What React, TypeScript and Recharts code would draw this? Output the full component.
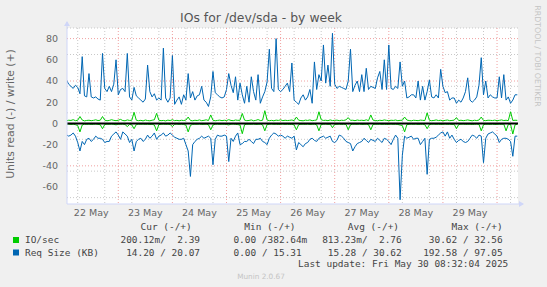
import React from 'react';
import { LineChart, Line, XAxis, YAxis, CartesianGrid, ReferenceLine } from 'recharts';

// time axis: hours since 22 May 00:00
const hours = Array.from({ length: 201 }, (_, i) => i + 1);

const dayLabels = ['22 May', '23 May', '24 May', '25 May', '26 May', '27 May', '28 May', '29 May'];
const dayLabelHours = [12, 36, 60, 84, 108, 132, 156, 180];
const majorXHours = [24, 48, 72, 96, 120, 144, 168, 192];
const minorXHours = [6, 12, 18, 30, 36, 42, 54, 60, 66, 78, 84, 90, 102, 108, 114, 126, 132, 138, 150, 156, 162, 174, 180, 186, 198];
const majorY = [-60, -40, -20, 0, 20, 40, 60, 80];
const minorY = [-75, -70, -65, -55, -50, -45, -35, -30, -25, -15, -10, -5, 5, 10, 15, 25, 30, 35, 45, 50, 55, 65, 70, 75, 85, 90];

// Req Size (KB), write (+)
const reqWrite = [
  41, 37, 35, 33, 36, 34, 28, 63, 26, 25,
  47, 25, 24, 25, 23, 22, 66, 33, 30, 35,
  30, 37, 60, 27, 32, 33, 30, 66, 25, 22,
  34, 26, 24, 22, 20, 23, 55, 30, 25, 28,
  22, 24, 22, 71, 24, 20, 24, 64, 18, 22,
  25, 18, 27, 22, 47, 24, 30, 22, 26, 27,
  35, 22, 20, 16, 25, 49, 29, 27, 25, 24,
  25, 32, 47, 36, 29, 44, 22, 38, 27, 19,
  35, 20, 44, 30, 22, 46, 19, 25, 30, 39,
  70, 33, 30, 80, 32, 30, 32, 35, 38, 30,
  57, 22, 20, 18, 24, 27, 22, 25, 32, 19,
  58, 32, 46, 40, 74, 38, 55, 35, 85, 37,
  33, 35, 34, 33, 32, 40, 70, 30, 36, 40,
  30, 46, 30, 52, 32, 35, 34, 33, 43, 49,
  32, 60, 32, 74, 33, 32, 35, 33, 58, 35,
  40, 24, 25, 27, 27, 24, 40, 22, 35, 22,
  30, 41, 25, 24, 27, 24, 51, 35, 29, 30,
  22, 24, 24, 19, 22, 20, 24, 30, 43, 22,
  20, 22, 25, 36, 62, 27, 40, 24, 27, 25,
  24, 24, 44, 24, 46, 22, 25, 19, 22, 27,
  27,
];

// Req Size (KB), read (-)
const reqRead = [
  -10.7, -12, -11, -9, -12, -18, -26, -17, -20, -15,
  -14, -17, -15, -12, -14, -14, -15, -18, -17, -17,
  -12, -10, -8, -11, -15, -8, -10, -12, -18, -15,
  -26, -17, -15, -14, -17, -15, -11, -14, -12, -9,
  -15, -12, -11, -9, -12, -11, -9, -11, -13, -14,
  -15, -15, -14, -20, -26, -50, -20, -17, -15, -14,
  -12, -14, -13, -12, -14, -39, -15, -11, -12, -12,
  -11, -12, -36, -14, -17, -12, -9, -20, -19, -17,
  -17, -15, -17, -19, -15, -15, -14, -17, -18, -20,
  -14, -11, -9, -10, -12, -11, -12, -14, -12, -13,
  -14, -12, -25, -18, -20, -22, -19, -18, -15, -14,
  -16, -17, -14, -13, -12, -14, -13, -12, -17, -18,
  -16, -11, -12, -14, -17, -18, -19, -26, -22, -19,
  -18, -17, -14, -16, -18, -15, -16, -17, -14, -16,
  -18, -14, -15, -17, -20, -15, -11, -14, -72, -30,
  -12, -14, -13, -12, -15, -14, -14, -20, -17, -14,
  -48, -15, -14, -14, -13, -11, -9, -8, -12, -8,
  -14, -11, -15, -18, -16, -15, -17, -18, -17, -14,
  -11, -12, -14, -11, -12, -37, -14, -10, -9, -8,
  -10, -12, -18, -15, -14, -14, -15, -17, -31, -12,
  -12,
];

// IO/sec, write (+)
const ioWrite = [
  2.5, 3, 2.8, 3.5, 2.6, 3, 6.5, 3.2, 2.4, 2.8,
  3, 2.6, 2.9, 3.4, 2.7, 3, 6.5, 3.1, 2.5, 2.8,
  3.5, 2.9, 2.6, 3, 3.8, 2.7, 2.5, 3.3, 2.8, 3,
  10.5, 3, 2.6, 2.9, 2.4, 3.2, 2.7, 2.5, 3, 3.4,
  9.5, 3, 2.6, 2.8, 2.4, 3.1, 2.7, 3.5, 2.6, 2.9,
  2.5, 3, 2.7, 3.2, 6, 2.8, 2.5, 3, 2.7, 3.3,
  2.6, 2.9, 3.4, 2.7, 8, 3, 2.5, 2.8, 3.1, 2.6,
  3, 2.7, 3.5, 2.8, 2.6, 3.2, 2.9, 3, 9.4, 3.1,
  2.6, 2.8, 3.3, 2.5, 2.9, 3.6, 2.7, 3, 12, 3.2,
  2.6, 2.9, 2.5, 3.1, 2.8, 3.4, 2.6, 3, 2.7, 2.9,
  3.2, 2.6, 6, 3, 2.7, 2.5, 3.1, 2.8, 3.3, 2.6,
  2.9, 3.2, 11, 3.5, 2.8, 3, 2.6, 3.3, 2.7, 2.9,
  3.1, 2.6, 3, 2.8, 3.4, 5.5, 2.9, 3, 2.6, 3.2,
  2.8, 3, 2.7, 3.4, 2.6, 8, 3.1, 2.8, 2.5, 3,
  2.7, 3.3, 2.9, 2.6, 3, 2.8, 3.2, 2.6, 2.9, 3,
  6, 3.2, 2.7, 2.5, 3, 2.8, 2.6, 3.1, 2.9, 2.7,
  10, 3, 2.6, 2.8, 3.3, 2.7, 3, 2.5, 2.9, 3.2,
  2.6, 2.8, 3.1, 5.5, 2.7, 3, 2.6, 2.9, 3.3, 2.8,
  2.5, 3, 2.7, 3.2, 6, 2.8, 2.6, 3, 2.9, 2.7,
  3.1, 2.6, 2.9, 3.3, 2.7, 3, 2.6, 11, 2.8, 3,
  2.9,
];

// IO/sec, read (-)
const ioRead = [
  -0.8, -0.6, -1, -0.7, -1.2, -2, -8, -1.5, -0.7, -0.9,
  -0.6, -1, -0.8, -0.6, -0.9, -1.2, -5, -1, -0.7, -0.8,
  -0.6, -0.9, -1.3, -0.7, -0.8, -0.6, -1, -3, -0.9, -1.4,
  -5, -1, -0.7, -0.8, -0.6, -0.9, -0.7, -1, -0.8, -1.5,
  -7, -1.1, -0.8, -0.6, -0.9, -0.7, -1, -3, -0.8, -0.6,
  -0.9, -0.7, -1, -1.6, -8, -1.8, -0.9, -0.7, -0.8, -0.6,
  -1, -0.8, -0.7, -1.2, -6, -1.5, -0.8, -0.6, -0.9, -0.7,
  -0.8, -1, -1.4, -0.7, -0.6, -0.9, -1.1, -1.5, -9.7, -1.2,
  -0.8, -0.7, -0.9, -0.6, -1, -0.8, -0.7, -1.3, -7, -1.1,
  -0.8, -0.6, -0.9, -0.7, -1, -0.8, -0.6, -0.9, -0.7, -1,
  -0.8, -1.4, -6, -1.2, -0.8, -0.7, -0.9, -0.6, -1, -0.8,
  -0.7, -1.3, -7, -1, -0.8, -0.6, -0.9, -0.7, -4, -0.9,
  -0.8, -0.6, -1, -0.7, -0.9, -6, -1.2, -0.8, -0.7, -0.9,
  -0.6, -1, -0.8, -0.7, -1.1, -6, -1, -0.7, -0.8, -0.6,
  -0.9, -0.7, -1, -0.8, -0.6, -0.9, -0.7, -1, -1.5, -2,
  -8, -1.2, -0.8, -0.7, -0.9, -0.6, -1, -0.8, -0.7, -1.2,
  -5, -1.1, -0.8, -0.6, -0.9, -0.7, -1, -0.8, -0.6, -0.9,
  -0.7, -1, -0.8, -5, -1, -0.7, -0.6, -0.9, -0.8, -0.7,
  -1, -0.8, -0.6, -0.9, -7, -1.2, -0.8, -0.7, -0.9, -0.6,
  -1, -0.8, -0.7, -0.9, -0.6, -7, -1, -0.8, -10, -1.2,
  -0.9,
];

const legendHeaders = ['Cur (-/+)', 'Min (-/+)', 'Avg (-/+)', 'Max (-/+)'];
const legendSeries = ['IO/sec', 'Req Size (KB)'];
const legendIO = ['200.12m/  2.39', '0.00 /382.64m', '813.23m/  2.76', '30.62 / 32.56'];
const legendReq = ['14.20 / 20.07', '0.00 / 15.31', '15.28 / 30.62', '192.58 / 97.05'];
const lastUpdate = 'Last update: Fri May 30 08:32:04 2025';

const GREEN = '#00CC00';
const BLUE = '#0066B3';
const AXIS = '#CFD6F8';

const data = hours.map((h, i) => ({
  h,
  ioRead: ioRead[i],
  ioWrite: ioWrite[i],
  reqRead: reqRead[i],
  reqWrite: reqWrite[i],
}));

const SANS = 'DejaVu Sans, sans-serif';
const MONO = 'DejaVu Sans Mono, monospace';

export default function App() {
  const monoStyle: React.CSSProperties = { whiteSpace: 'pre' };
  return (
    <div style={{ position: 'absolute', left: 0, top: 0, width: 547, height: 287, background: '#F0F0F0', overflow: 'hidden' }}>
      <LineChart
        width={547}
        height={287}
        data={data}
        margin={{ top: 28, right: 29, bottom: 63, left: 7 }}
      >
        <CartesianGrid
          fill="#FFFFFF"
          stroke="#C8C8C8"
          strokeDasharray="1 2"
          horizontalValues={minorY}
          verticalValues={minorXHours}
        />
        <CartesianGrid
          stroke="#F0A0A0"
          strokeDasharray="1 2"
          horizontalValues={majorY}
          verticalValues={majorXHours}
        />
        <XAxis
          type="number"
          dataKey="h"
          domain={[1.25, 201.3]}
          allowDataOverflow
          ticks={dayLabelHours}
          tickFormatter={(v: number) => dayLabels[dayLabelHours.indexOf(v)]}
          axisLine={{ stroke: AXIS }}
          tickLine={false}
          tickSize={0}
          tickMargin={5}
          height={20}
          tick={{ fontSize: 9.5, fill: '#666666', fontFamily: SANS }}
        />
        <YAxis
          type="number"
          domain={[-76, 90]}
          allowDataOverflow
          ticks={majorY}
          axisLine={{ stroke: AXIS }}
          tickLine={false}
          tickSize={0}
          tickMargin={9}
          width={60}
          tick={{ fontSize: 9.5, fill: '#666666', fontFamily: SANS }}
        />
        <Line type="linear" dataKey="ioRead" stroke={GREEN} strokeWidth={1} dot={false} isAnimationActive={false} />
        <Line type="linear" dataKey="ioWrite" stroke={GREEN} strokeWidth={1} dot={false} isAnimationActive={false} />
        <Line type="linear" dataKey="reqRead" stroke={BLUE} strokeWidth={1} dot={false} isAnimationActive={false} />
        <Line type="linear" dataKey="reqWrite" stroke={BLUE} strokeWidth={1} dot={false} isAnimationActive={false} />
        <ReferenceLine y={0} stroke="#000000" strokeWidth={2} />
      </LineChart>
      <svg width={547} height={287} style={{ position: 'absolute', left: 0, top: 0, pointerEvents: 'none' }}>
        <line x1={67} y1={22} x2={67} y2={28} stroke={AXIS} />
        <polygon points="64,26 70,26 67,21" fill={AXIS} />
        <line x1={518} y1={204} x2={523} y2={204} stroke={AXIS} />
        <polygon points="519,201 519,207 524,204" fill={AXIS} />
        <text x={261} y={22} textAnchor="middle" fontFamily={SANS} fontSize={12.4} fill="#555555">IOs for /dev/sda - by week</text>
        <text transform="translate(14,114) rotate(-90)" textAnchor="middle" fontFamily={SANS} fontSize={10.8} fill="#666666">Units read (-) / write (+)</text>
        <text transform="translate(535,56) rotate(90)" textAnchor="middle" fontFamily={SANS} fontSize={7.9} fill="#C4C4C4">RRDTOOL / TOBI OETIKER</text>
        <text x={191.7} y={230} textAnchor="end" fontFamily={MONO} fontSize={9.45} fill="#444444" style={monoStyle}>{legendHeaders[0]}</text>
        <text x={295.5} y={230} textAnchor="end" fontFamily={MONO} fontSize={9.45} fill="#444444" style={monoStyle}>{legendHeaders[1]}</text>
        <text x={399} y={230} textAnchor="end" fontFamily={MONO} fontSize={9.45} fill="#444444" style={monoStyle}>{legendHeaders[2]}</text>
        <text x={502.7} y={230} textAnchor="end" fontFamily={MONO} fontSize={9.45} fill="#444444" style={monoStyle}>{legendHeaders[3]}</text>
        <rect x={13} y={237} width={6} height={6} fill={GREEN} />
        <text x={25} y={243} fontFamily={MONO} fontSize={9.45} fill="#444444" style={monoStyle}>{legendSeries[0]}</text>
        <text x={200} y={243} textAnchor="end" fontFamily={MONO} fontSize={9.45} fill="#444444" style={monoStyle}>{legendIO[0]}</text>
        <text x={307.3} y={243} textAnchor="end" fontFamily={MONO} fontSize={9.45} fill="#444444" style={monoStyle}>{legendIO[1]}</text>
        <text x={401.7} y={243} textAnchor="end" fontFamily={MONO} fontSize={9.45} fill="#444444" style={monoStyle}>{legendIO[2]}</text>
        <text x={502.7} y={243} textAnchor="end" fontFamily={MONO} fontSize={9.45} fill="#444444" style={monoStyle}>{legendIO[3]}</text>
        <rect x={13} y={249.5} width={6} height={6} fill={BLUE} />
        <text x={25} y={255.5} fontFamily={MONO} fontSize={9.45} fill="#444444" style={monoStyle}>{legendSeries[1]}</text>
        <text x={200} y={255.5} textAnchor="end" fontFamily={MONO} fontSize={9.45} fill="#444444" style={monoStyle}>{legendReq[0]}</text>
        <text x={301.7} y={255.5} textAnchor="end" fontFamily={MONO} fontSize={9.45} fill="#444444" style={monoStyle}>{legendReq[1]}</text>
        <text x={401.7} y={255.5} textAnchor="end" fontFamily={MONO} fontSize={9.45} fill="#444444" style={monoStyle}>{legendReq[2]}</text>
        <text x={502.7} y={255.5} textAnchor="end" fontFamily={MONO} fontSize={9.45} fill="#444444" style={monoStyle}>{legendReq[3]}</text>
        <text x={508.3} y={267} textAnchor="end" fontFamily={MONO} fontSize={9.45} fill="#444444" style={monoStyle}>{lastUpdate}</text>
        <text x={261} y={279} textAnchor="middle" fontFamily={SANS} fontSize={7.3} fill="#C4C4C4">Munin 2.0.67</text>
      </svg>
    </div>
  );
}
